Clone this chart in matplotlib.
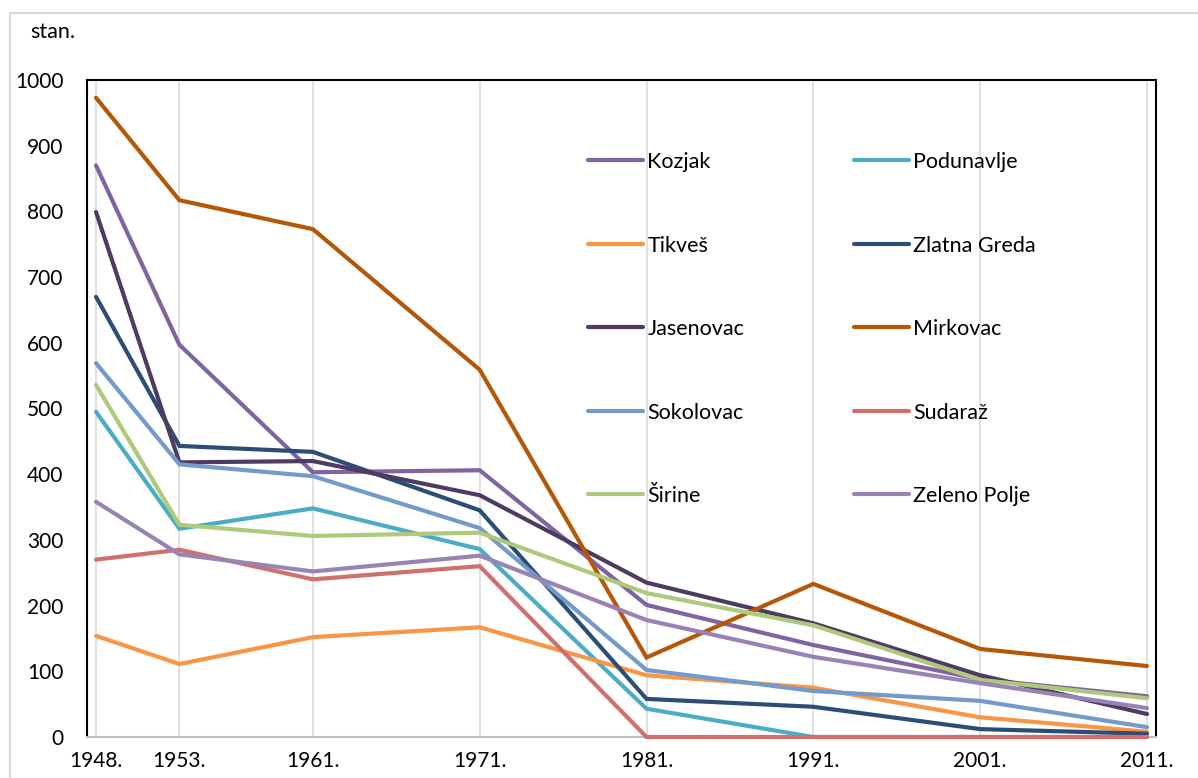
import matplotlib
matplotlib.use('Agg')
import matplotlib.pyplot as plt
from matplotlib.patches import Rectangle

# census years and settlement populations (stan.)
years = [1948, 1953, 1961, 1971, 1981, 1991, 2001, 2011]

kozjak       = [870, 597, 403, 406, 201, 140, 88, 62]
podunavlje   = [495, 317, 348, 286, 43, 0, 0, 0]
tikves       = [154, 111, 152, 167, 94, 75, 30, 8]
zlatna_greda = [670, 443, 434, 345, 58, 46, 12, 5]
jasenovac    = [799, 418, 420, 368, 235, 173, 94, 35]
mirkovac     = [973, 817, 773, 559, 121, 233, 134, 108]
sokolovac    = [569, 415, 397, 318, 102, 70, 55, 15]
sudaraz      = [270, 285, 240, 260, 0, 0, 0, 0]
sirine       = [536, 323, 306, 311, 219, 170, 87, 59]
zeleno_polje = [358, 278, 252, 276, 178, 122, 82, 44]

names = ['Kozjak', 'Podunavlje', 'Tikveš', 'Zlatna Greda', 'Jasenovac',
         'Mirkovac', 'Sokolovac', 'Sudaraž', 'Širine', 'Zeleno Polje']
series = [kozjak, podunavlje, tikves, zlatna_greda, jasenovac,
          mirkovac, sokolovac, sudaraz, sirine, zeleno_polje]
colors = ['#8064A2', '#4BACC6', '#F79646', '#2C4D75', '#4D3B62',
          '#B65708', '#729ACA', '#D0706E', '#AFC97A', '#9983B5']

y_ticks = [0, 100, 200, 300, 400, 500, 600, 700, 800, 900, 1000]

plt.rcParams['font.family'] = ['Lato', 'DejaVu Sans']

W, H = 1198, 778
fig = plt.figure(figsize=(W / 100, H / 100), dpi=100)

# light chart-area border
fig.patches.append(Rectangle((10 / W, -0.1), 1.2, 1 - 13 / H + 0.1,
                             transform=fig.transFigure, fill=False,
                             edgecolor='#D9D9D9', linewidth=1.5))

ax = fig.add_axes([87 / W, 41 / H, (1156 - 87) / W, (737 - 80) / H])

handles = {}
for name, vals, c in zip(names, series, colors):
    ln, = ax.plot(years, vals, color=c, linewidth=3.0, label=name,
                  solid_capstyle='round', solid_joinstyle='miter',
                  clip_on=False, zorder=3)
    handles[name] = ln

ax.set_xlim(1947.46, 2011.54)
ax.set_ylim(0, 1000)
ax.set_xticks(years)
ax.set_xticklabels([f'{y}.' for y in years], fontsize=15)
ax.set_yticks(y_ticks)
ax.set_yticklabels([str(v) for v in y_ticks], fontsize=15)
ax.tick_params(axis='both', length=0)
ax.tick_params(axis='y', pad=17)
ax.tick_params(axis='x', pad=10)
ax.xaxis.grid(True, color='#DDDDDD', linewidth=1.3)
ax.set_axisbelow(True)

for side in ['left', 'top', 'right']:
    ax.spines[side].set_color('black')
    ax.spines[side].set_linewidth(1.5)
ax.spines['bottom'].set_color('#BFBFBF')
ax.spines['bottom'].set_linewidth(1.5)

# legend: two columns, filled column by column
order = ['Kozjak', 'Tikveš', 'Jasenovac', 'Sokolovac', 'Širine',
         'Podunavlje', 'Zlatna Greda', 'Mirkovac', 'Sudaraž', 'Zeleno Polje']
fig.legend([handles[n] for n in order], order, ncol=2, frameon=False,
           loc='upper left', bbox_to_anchor=(588 / W, 1 - 152 / H),
           fontsize=15.5, handlelength=2.55, handletextpad=0.2,
           labelspacing=2.95, columnspacing=5.1, borderpad=0,
           borderaxespad=0)

fig.text(30 / W, 1 - 32 / H, 'stan.', fontsize=15.5, va='center', ha='left')

fig.savefig('out.png', dpi=100)
